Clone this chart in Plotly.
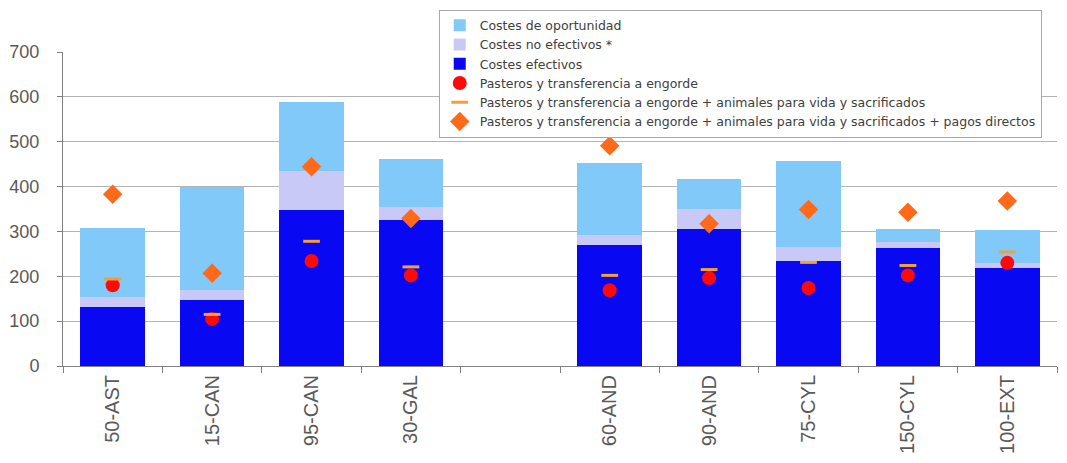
import plotly.graph_objects as go

# Farm types (blank slot separates the two groups)
categories = ["50-AST", "15-CAN", "95-CAN", "30-GAL", " ",
              "60-AND", "90-AND", "75-CYL", "150-CYL", "100-EXT"]

# Stacked cost components (€/head)
costes_efectivos = [131, 147, 347, 326, None, 270, 306, 235, 264, 219]
costes_no_efectivos = [23, 23, 87, 28, None, 23, 44, 30, 12, 10]
costes_oportunidad = [154, 230, 155, 108, None, 160, 66, 193, 29, 75]

# Income levels
ingresos_pasteros = [180, 105, 234, 202, None, 169, 196, 174, 202, 230]
ingresos_vida_sacrif = [194, 115, 278, 221, None, 202, 215, 231, 224, 254]
ingresos_pagos = [383, 207, 444, 329, None, 491, 317, 349, 343, 368]

y_ticks = [0, 100, 200, 300, 400, 500, 600, 700]

FONT = "Liberation Sans, Arial, sans-serif"
GREY_TEXT = "#595959"

fig = go.Figure()
fig.add_trace(go.Bar(x=categories, y=costes_efectivos, name="Costes efectivos",
                     legendrank=3,
                     marker=dict(color="#0808F2", line=dict(width=0))))
fig.add_trace(go.Bar(x=categories, y=costes_no_efectivos, name="Costes no efectivos *",
                     legendrank=2,
                     marker=dict(color="#C9C9F7", line=dict(width=0))))
fig.add_trace(go.Bar(x=categories, y=costes_oportunidad, name="Costes de oportunidad",
                     legendrank=1,
                     marker=dict(color="#80C9F8", line=dict(width=0))))
fig.add_trace(go.Scatter(x=categories, y=ingresos_pasteros, mode="markers",
                         name="Pasteros y transferencia a engorde", legendrank=4,
                         marker=dict(symbol="circle", size=14, color="#FF0A0A",
                                     line=dict(width=0))))
fig.add_trace(go.Scatter(x=categories, y=ingresos_vida_sacrif, mode="markers",
                         name="Pasteros y transferencia a engorde + animales para vida y sacrificados",
                         legendrank=5,
                         marker=dict(symbol="line-ew", size=12, color="#F5A030",
                                     line=dict(width=3, color="#F5A030"))))
fig.add_trace(go.Scatter(x=categories, y=ingresos_pagos, mode="markers",
                         name="Pasteros y transferencia a engorde + animales para vida y sacrificados + pagos directos",
                         legendrank=6,
                         marker=dict(symbol="diamond", size=15, color="#FF6A1A",
                                     line=dict(width=0))))

fig.update_layout(
    width=1067, height=463,
    margin=dict(l=63, r=10, t=46, b=97),
    paper_bgcolor="white", plot_bgcolor="white",
    barmode="stack", bargap=0.35,
    font=dict(family=FONT, color=GREY_TEXT),
    showlegend=True,
    legend=dict(
        x=0.378, y=1.135, xanchor="left", yanchor="top",
        bgcolor="white", bordercolor="#A8A8A8", borderwidth=1,
        font=dict(size=12.5, color="#404040", family="DejaVu Sans, sans-serif"),
        traceorder="normal", tracegroupgap=0,
    ),
)
fig.update_xaxes(
    type="category", range=[-0.5, len(categories) - 0.5],
    tickson="boundaries", ticks="outside", ticklen=6,
    tickcolor="#808080", showline=True, linecolor="#808080", linewidth=1,
    tickangle=-90, tickfont=dict(size=20, color=GREY_TEXT, family=FONT),
    showgrid=False, automargin=False,
)
fig.update_yaxes(
    range=[0, 700], tickvals=y_ticks, ticks="outside", ticklen=5,
    tickcolor="#808080", showline=True, linecolor="#808080", linewidth=1,
    showgrid=True, gridcolor="#B4B4B4", gridwidth=1,
    tickfont=dict(size=18, color=GREY_TEXT, family=FONT), zeroline=False,
    ticklabelstandoff=14, automargin=False,
)

fig.write_html("out.html")
